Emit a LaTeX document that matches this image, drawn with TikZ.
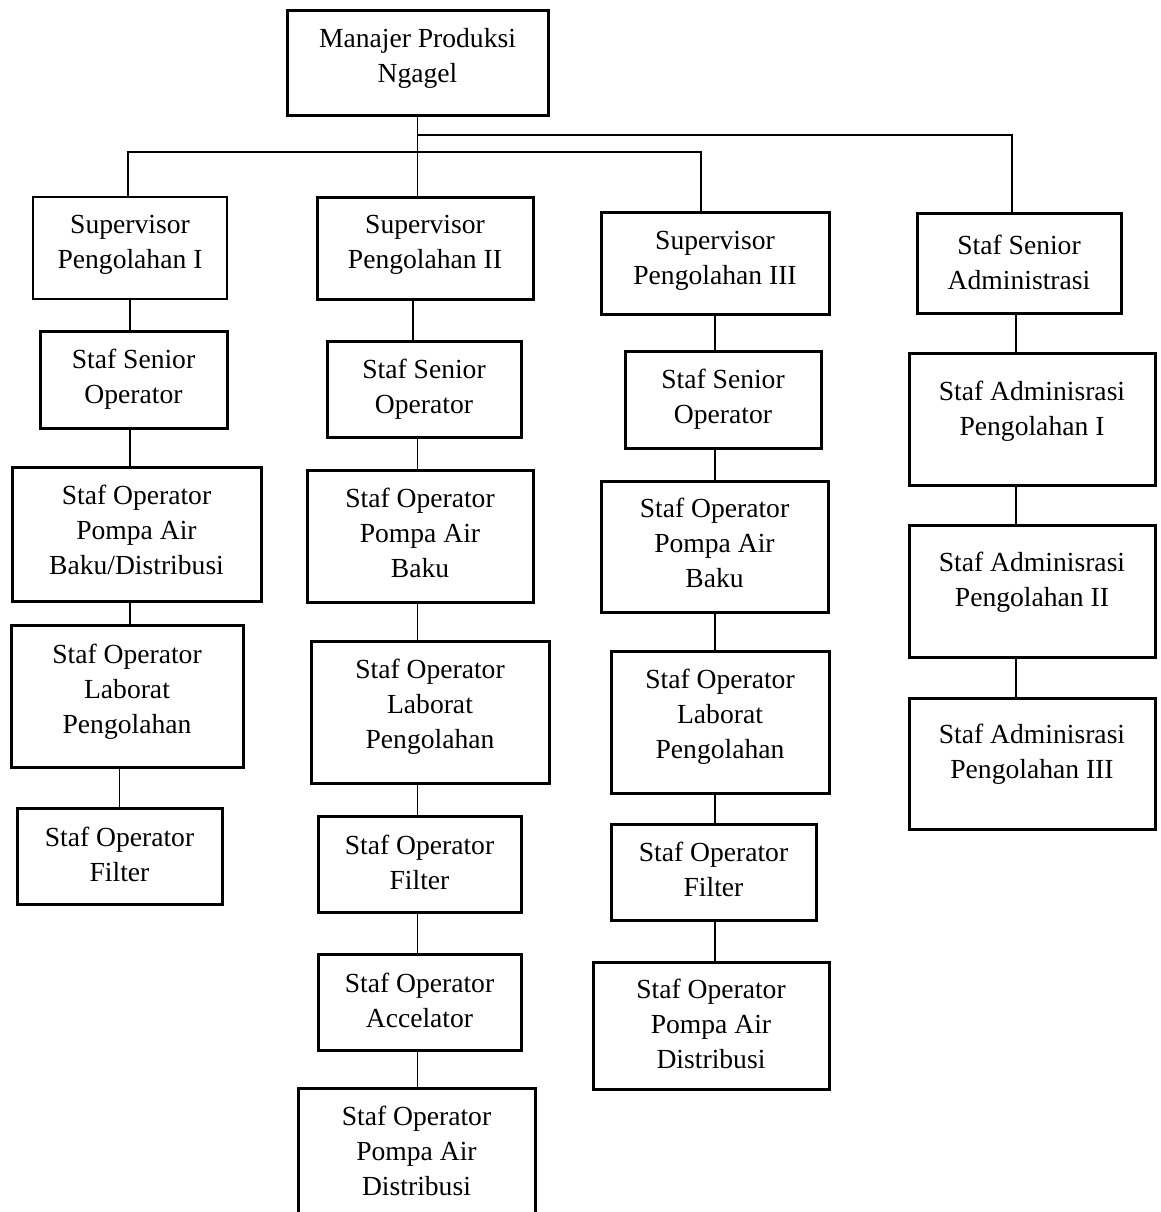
\documentclass[tikz,border=0pt]{standalone}
\usepackage{fontspec}
\setmainfont{Liberation Serif}
\begin{document}
\begin{tikzpicture}[x=0.5pt,y=-0.5pt,
  boxst/.style={draw=black,line width=1.5pt,rectangle,inner sep=0pt,outer sep=0pt},
  thinbox/.style={line width=0.7pt},
  txt/.style={align=center,inner sep=0pt,font=\fontsize{13.8pt}{17.5pt}\selectfont},
  conn/.style={draw=black,line width=0.8pt},
  connthick/.style={draw=black,line width=1.2pt}]
\useasboundingbox (0,0) rectangle (1161,1212);
\clip (0,0) rectangle (1161,1212);
% #7 = baseline of the last text line
\newcommand\bx[8][]{%
  \node[boxst,#1,minimum width={(#5-#3)*0.5pt},minimum height={(#6-#4)*0.5pt}] (#2) at ({(#3+#5)/2},{(#4+#6)/2}) {};
  \node[txt,anchor=base] (#2t) at ({(#3+#5)/2},#7) {#8};}
% top
\bx{mgr}{287}{10}{548}{115}{82}{Manajer Produksi\\Ngagel}
% column 1
\bx[thinbox]{sup1}{33}{197}{227}{299}{268}{Supervisor\\Pengolahan I}
\bx{sso1}{40}{331}{227}{428}{403}{Staf Senior\\Operator}
\bx{pomp1}{12}{467}{261}{601}{574}{Staf Operator\\Pompa Air\\Baku/Distribusi}
\bx{lab1}{11}{625}{243}{767}{733}{Staf Operator\\Laborat\\Pengolahan}
\bx{filt1}{17}{808}{222}{904}{881}{Staf Operator\\Filter}
% column 2
\bx{sup2}{317}{197}{533}{299}{268}{Supervisor\\Pengolahan II}
\bx{sso2}{327}{341}{521}{437}{413}{Staf Senior\\Operator}
\bx{pomp2}{307}{470}{533}{602}{577}{Staf Operator\\Pompa Air\\Baku}
\bx{lab2}{311}{641}{549}{783}{748}{Staf Operator\\Laborat\\Pengolahan}
\bx{filt2}{318}{816}{521}{912}{889}{Staf Operator\\Filter}
\bx{acc2}{318}{954}{521}{1050}{1027}{Staf Operator\\Accelator}
\bx{pad2}{298}{1088}{535}{1240}{1195}{Staf Operator\\Pompa Air\\Distribusi}
% column 3
\bx{sup3}{601}{212}{829}{314}{284}{Supervisor\\Pengolahan III}
\bx{sso3}{625}{351}{821}{448}{423}{Staf Senior\\Operator}
\bx{pomp3}{601}{481}{828}{612}{587}{Staf Operator\\Pompa Air\\Baku}
\bx{lab3}{611}{651}{829}{793}{758}{Staf Operator\\Laborat\\Pengolahan}
\bx{filt3}{611}{824}{816}{920}{896}{Staf Operator\\Filter}
\bx{pad3}{593}{962}{829}{1089}{1068}{Staf Operator\\Pompa Air\\Distribusi}
% column 4
\bx{ssa}{917}{213}{1121}{313}{289}{Staf Senior\\Administrasi}
\bx{adm1}{909}{353}{1155}{485}{435}{Staf Adminisrasi\\Pengolahan I}
\bx{adm2}{909}{525}{1155}{657}{606}{Staf Adminisrasi\\Pengolahan II}
\bx{adm3}{909}{698}{1155}{829}{778}{Staf Adminisrasi\\Pengolahan III}
% bus
\coordinate (jL) at (128,152);
\coordinate (jR) at (701,152);
\coordinate (jT) at (417.5,135);
\coordinate (jS) at (1012,135);
\coordinate (c2) at (413,0);
\coordinate (c4) at (1016,0);
\draw[conn] (mgr.south) -- (mgr.south |- sup2.north);
\draw[conn] (sup1.north -| jL) -- (jL) -- (jR) -- (sup3.north -| jR);
\draw[connthick] (jT) -- (jS) -- (ssa.north -| jS);
% column 1 links
\draw[conn] (sup1.south) -- (sso1.north -| sup1.south);
\draw[conn] (sso1.south -| sup1.south) -- (pomp1.north -| sup1.south);
\draw[conn] (pomp1.south -| sup1.south) -- (lab1.north -| sup1.south);
\draw[conn] (lab1.south -| filt1.north) -- (filt1.north);
% column 2 links
\draw[conn] (sup2.south -| c2) -- (sso2.north -| c2);
\draw[conn] (sso2.south -| mgr.south) -- (pomp2.north -| mgr.south);
\draw[conn] (pomp2.south -| mgr.south) -- (lab2.north -| mgr.south);
\draw[conn] (lab2.south -| mgr.south) -- (filt2.north -| mgr.south);
\draw[conn] (filt2.south -| mgr.south) -- (acc2.north -| mgr.south);
\draw[conn] (acc2.south -| mgr.south) -- (pad2.north -| mgr.south);
% column 3 links
\draw[conn] (sup3.south) -- (sso3.north -| sup3.south);
\draw[conn] (sso3.south -| sup3.south) -- (pomp3.north -| sup3.south);
\draw[conn] (pomp3.south -| sup3.south) -- (lab3.north -| sup3.south);
\draw[conn] (lab3.south -| sup3.south) -- (filt3.north -| sup3.south);
\draw[conn] (filt3.south -| sup3.south) -- (pad3.north -| sup3.south);
% column 4 links
\draw[conn] (ssa.south -| c4) -- (adm1.north -| c4);
\draw[conn] (adm1.south -| c4) -- (adm2.north -| c4);
\draw[conn] (adm2.south -| c4) -- (adm3.north -| c4);
\end{tikzpicture}
\end{document}
